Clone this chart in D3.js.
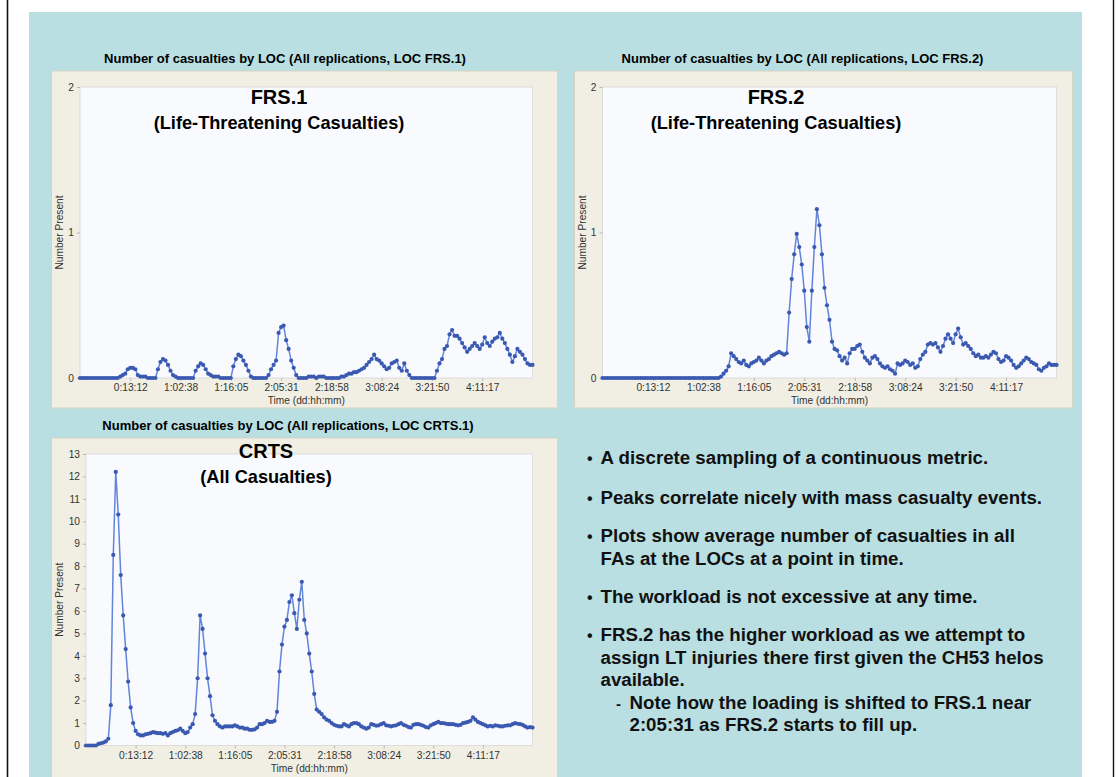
<!DOCTYPE html>
<html>
<head>
<meta charset="utf-8">
<script src="https://d3js.org/d3.v7.min.js"></script>
<style>
  body { margin: 0; background: #fff; }
  svg { display: block; font-family: "Liberation Sans", Arial, sans-serif; }
</style>
</head>
<body>
<div id="my_dataviz"></div>
<script>
// time axis labels (dd:hh:mm), one per tick interval
var timeLabels = ["0:13:12", "1:02:38", "1:16:05", "2:05:31", "2:18:58", "3:08:24", "3:21:50", "4:11:17"];
var sampleStep = 0.05; // samples are taken every 1/20 of a tick interval

// average number present, FRS.1 (life-threatening)
var frs1Values = [
  0,0,0,0,0,0,0,0,0,0,0,0,0,0,0,0,
  0.01,0.02,0.03,0.06,0.07,0.07,0.06,0.02,0.01,0.01,0.01,0,0,0,0,
  0.06,0.11,0.13,0.12,0.09,0.05,0.02,0.01,0,0,0,0,0,0,0,
  0.05,0.08,0.10,0.09,0.06,0.03,0.02,0.01,0.01,0.01,0,0,0,0,0,
  0.08,0.13,0.16,0.15,0.12,0.09,0.05,0.01,0,0,0,0,0,0,
  0.02,0.06,0.09,0.12,0.31,0.35,0.36,0.26,0.2,0.12,0.07,0.02,0,0,0,0,
  0.01,0.01,0.01,0,0.01,0.01,0.01,0,0,0,0,0,0,
  0.01,0.01,0.02,0.03,0.03,0.04,0.04,0.05,0.06,0.07,0.09,0.11,0.13,0.16,0.13,0.12,0.10,0.08,0.06,0.07,0.10,0.11,0.12,0.07,0.05,0.10,0.05,0.02,
  0,0,0,0,0,0,0,0,0,0,
  0.05,0.1,0.13,0.2,0.22,0.3,0.33,0.29,0.29,0.27,0.24,0.21,0.18,0.2,0.22,0.24,0.22,0.2,0.23,0.28,0.24,0.22,0.25,0.27,0.28,0.31,0.27,0.24,0.2,0.16,0.11,0.15,0.2,0.18,0.16,0.13,0.1,0.09,0.09
];

// average number present, FRS.2 (life-threatening)
var frs2Values = [
  0,0,0,0,0,0,0,0,0,0,0,0,0,0,0,0,0,0,0,0,0,0,0,0,0,0,0,0,0,0,0,0,0,0,0,0,0,0,0,0,0,0,0,0,0,0,0,
  0.01,0.03,0.05,0.08,0.17,0.15,0.13,0.11,0.1,0.12,0.09,0.08,0.1,0.11,0.12,0.14,0.12,0.1,0.12,0.13,0.15,0.16,0.17,0.18,0.17,0.16,0.17,
  0.45,0.68,0.85,0.99,0.9,0.78,0.6,0.35,0.25,0.6,0.9,1.16,1.05,0.85,0.62,0.5,0.4,0.25,0.2,0.19,0.15,0.12,0.14,0.1,0.17,0.2,0.2,
  0.22,0.23,0.18,0.14,0.12,0.1,0.14,0.15,0.13,0.1,0.08,0.07,0.08,0.06,0.05,0.03,0.1,0.09,0.1,0.12,0.11,0.09,0.1,0.07,0.08,0.13,0.16,0.18,0.23,0.24,
  0.23,0.24,0.21,0.18,0.22,0.27,0.3,0.27,0.24,0.3,0.34,0.28,0.23,0.24,0.22,0.2,0.17,0.15,0.16,0.14,0.14,0.15,0.14,0.16,0.18,0.17,0.13,0.11,0.12,0.15,
  0.14,0.12,0.09,0.07,0.08,0.1,0.12,0.14,0.13,0.11,0.1,0.09,0.06,0.05,0.07,0.08,0.1,0.09,0.09,0.09
];

// average number present, CRTS.1 (all casualties)
var crtsValues = [
  0,0,0,0,0,0.07,0.1,0.13,0.18,0.3,1.8,8.5,12.2,10.3,7.6,5.8,4.3,2.85,1.7,1.0,0.65,
  0.5,0.45,0.45,0.5,0.52,0.55,0.6,0.57,0.55,0.55,0.52,0.55,0.45,0.55,0.6,0.65,0.68,0.75,0.65,0.55,
  0.6,0.8,0.95,1.4,3.0,5.8,5.2,4.1,3.0,2.2,1.35,1.1,0.95,0.85,0.8,0.85,0.85,0.85,0.85,0.9,
  0.85,0.8,0.8,0.75,0.75,0.7,0.7,0.72,0.8,0.95,0.95,1.0,1.1,1.05,1.05,1.1,1.5,3.3,4.5,5.3,
  5.6,6.4,6.7,5.9,5.2,6.5,7.3,5.6,5.0,4.1,3.3,2.3,1.6,1.5,1.4,1.25,1.15,1.1,1.0,0.92,
  0.88,0.85,0.85,0.95,0.9,0.85,0.95,1.0,1.0,0.95,0.85,0.8,0.75,0.8,0.95,0.92,0.88,0.9,0.95,1.0,
  0.9,0.88,0.85,0.88,0.9,0.95,1.0,0.92,0.88,0.82,0.8,0.92,0.95,0.95,0.92,0.88,0.82,0.8,0.9,0.95,
  1.0,1.05,1.0,1.0,0.98,0.95,0.95,0.95,0.92,0.9,0.92,1.0,1.02,1.05,1.1,1.25,1.15,1.05,1.0,0.95,
  0.9,0.85,0.88,0.85,0.9,0.88,0.85,0.85,0.88,0.9,0.9,0.95,1.0,0.97,0.95,0.92,0.85,0.8,0.82,0.8
];

var frsTicks = [0, 1, 2];
var crtsTicks = [0, 1, 2, 3, 4, 5, 6, 7, 8, 9, 10, 11, 12, 13];

var bulletLines = [
  {text: "A discrete sampling of a continuous metric.", bullet: "•"},
  {text: "Peaks correlate nicely with mass casualty events.", bullet: "•"},
  {text: "Plots show average number of casualties in all", bullet: "•"},
  {text: "FAs at the LOCs at a point in time."},
  {text: "The workload is not excessive at any time.", bullet: "•"},
  {text: "FRS.2 has the higher workload as we attempt to", bullet: "•"},
  {text: "assign LT injuries there first given the CH53 helos"},
  {text: "available."},
  {text: "Note how the loading is shifted to FRS.1 near", bullet: "-", sub: true},
  {text: "2:05:31 as FRS.2 starts to fill up.", sub: true}
];
var bulletBaselines = [464, 503.5, 542, 564.5, 602.5, 641, 663.5, 686, 708.5, 731];

var W = 1120, H = 777;
var lineColor = "#6285db", dotColor = "#3a59b0";

var svg = d3.select("#my_dataviz")
  .append("svg")
    .attr("width", W)
    .attr("height", H);

// ---------------------------//
//       BACKGROUND           //
// ---------------------------//
svg.append("rect").attr("x", 0).attr("y", 0).attr("width", W).attr("height", H).attr("fill", "#fff");
svg.append("rect").attr("x", 29).attr("y", 12).attr("width", 1053).attr("height", H - 12).attr("fill", "#b9dfe2");
svg.append("line").attr("x1", 7.5).attr("x2", 7.5).attr("y1", 0).attr("y2", H).attr("stroke", "#111").attr("stroke-width", 1.6);
svg.append("line").attr("x1", 1113.5).attr("x2", 1113.5).attr("y1", 0).attr("y2", H).attr("stroke", "#111").attr("stroke-width", 1.4);

// ---------------------------//
//       CHARTS               //
// ---------------------------//
var charts = [
  {header: "Number of casualties by LOC (All replications, LOC FRS.1)", headerX: 285, headerY: 62.5,
   name: "FRS.1", sub: "(Life-Threatening Casualties)", nameX: 279, nameY: 104, subY: 129,
   values: frs1Values, yTicks: frsTicks, yMax: 2,
   panel: [51, 70.5, 506, 337], plot: [80, 87, 532.5, 378], yTitleX: 63},
  {header: "Number of casualties by LOC (All replications, LOC FRS.2)", headerX: 802.5, headerY: 62.5,
   name: "FRS.2", sub: "(Life-Threatening Casualties)", nameX: 776, nameY: 104, subY: 129,
   values: frs2Values, yTicks: frsTicks, yMax: 2,
   panel: [574, 70.5, 498, 337], plot: [602.5, 87, 1056.5, 378], yTitleX: 585.5},
  {header: "Number of casualties by LOC (All replications, LOC CRTS.1)", headerX: 288, headerY: 429.5,
   name: "CRTS", sub: "(All Casualties)", nameX: 266, nameY: 458, subY: 482.5,
   values: crtsValues, yTicks: crtsTicks, yMax: 13,
   panel: [51, 437.5, 506, 345], plot: [86, 454, 532.5, 745.5], yTitleX: 63}
];

charts.forEach(function(c) {
  var g = svg.append("g");
  var left = c.plot[0], top = c.plot[1], right = c.plot[2], bottom = c.plot[3];

  // panel + plot area
  g.append("rect")
    .attr("x", c.panel[0] + 0.5).attr("y", c.panel[1] + 0.5)
    .attr("width", c.panel[2]).attr("height", c.panel[3])
    .attr("fill", "#f1efe3").attr("stroke", "#d6d3c4");
  g.append("rect")
    .attr("x", left).attr("y", top)
    .attr("width", right - left).attr("height", bottom - top)
    .attr("fill", "#f8fafe").attr("stroke", "#dcdcdc");

  // header
  g.append("text")
    .attr("x", c.headerX).attr("y", c.headerY)
    .attr("text-anchor", "middle")
    .attr("font-weight", 700).attr("font-size", "13px")
    .text(c.header);

  // scales
  var x = d3.scaleLinear().domain([0, 9]).range([left, right]);
  var y = d3.scaleLinear().domain([0, c.yMax]).range([bottom, top]);

  // axes
  var xAxis = g.append("g")
    .attr("transform", "translate(0," + bottom + ")")
    .call(d3.axisBottom(x).tickValues(d3.range(1, 9)).tickFormat(function(d, i) { return timeLabels[i]; }).tickSize(3));
  var yAxis = g.append("g")
    .attr("transform", "translate(" + left + ",0)")
    .call(d3.axisLeft(y).tickValues(c.yTicks).tickFormat(d3.format("d")).tickSize(3));
  [xAxis, yAxis].forEach(function(a) {
    a.select(".domain").remove();
    a.selectAll(".tick line").attr("stroke", "#b8b8b8");
    a.selectAll("text").attr("fill", "#333").attr("font-size", "10.2px").attr("font-family", "Liberation Sans, Arial, sans-serif");
  });

  // axis titles
  g.append("text")
    .attr("x", (left + right) / 2).attr("y", bottom + 26)
    .attr("text-anchor", "middle").attr("font-size", "10.2px").attr("fill", "#333")
    .text("Time (dd:hh:mm)");
  g.append("text")
    .attr("transform", "translate(" + c.yTitleX + "," + ((top + bottom) / 2) + ") rotate(-90)")
    .attr("text-anchor", "middle").attr("font-size", "10.2px").attr("fill", "#333")
    .text("Number Present");

  // series line + markers
  var line = d3.line()
    .x(function(d, i) { return x(i * sampleStep); })
    .y(function(d) { return y(d); });
  g.append("path")
    .datum(c.values)
    .attr("d", line)
    .attr("fill", "none")
    .attr("stroke", lineColor)
    .attr("stroke-width", 1.5);
  g.selectAll(".dot")
    .data(c.values)
    .enter()
    .append("circle")
      .attr("cx", function(d, i) { return x(i * sampleStep); })
      .attr("cy", function(d) { return y(d); })
      .attr("r", 2.1)
      .attr("fill", dotColor);

  // overlay labels
  g.append("text")
    .attr("x", c.nameX).attr("y", c.nameY)
    .attr("text-anchor", "middle").attr("font-weight", 700).attr("font-size", "20px")
    .text(c.name);
  g.append("text")
    .attr("x", c.nameX).attr("y", c.subY)
    .attr("text-anchor", "middle").attr("font-weight", 700).attr("font-size", "18.2px")
    .text(c.sub);
});

// ---------------------------//
//       BULLET NOTES         //
// ---------------------------//
var notes = svg.append("g")
  .attr("font-weight", 700)
  .attr("font-size", "18.7px")
  .attr("fill", "#111");

notes.selectAll(".mark")
  .data(bulletLines.filter(function(d) { return d.bullet; }))
  .enter()
  .append("text")
    .attr("x", function(d) { return d.sub ? 616 : 587; })
    .attr("y", function(d) { return bulletBaselines[bulletLines.indexOf(d)]; })
    .attr("font-size", function(d) { return d.sub ? "15px" : "16px"; })
    .text(function(d) { return d.bullet; });

notes.selectAll(".line")
  .data(bulletLines)
  .enter()
  .append("text")
    .attr("x", function(d) { return d.sub ? 629.5 : 600.5; })
    .attr("y", function(d, i) { return bulletBaselines[i]; })
    .text(function(d) { return d.text; });
</script>
</body>
</html>
